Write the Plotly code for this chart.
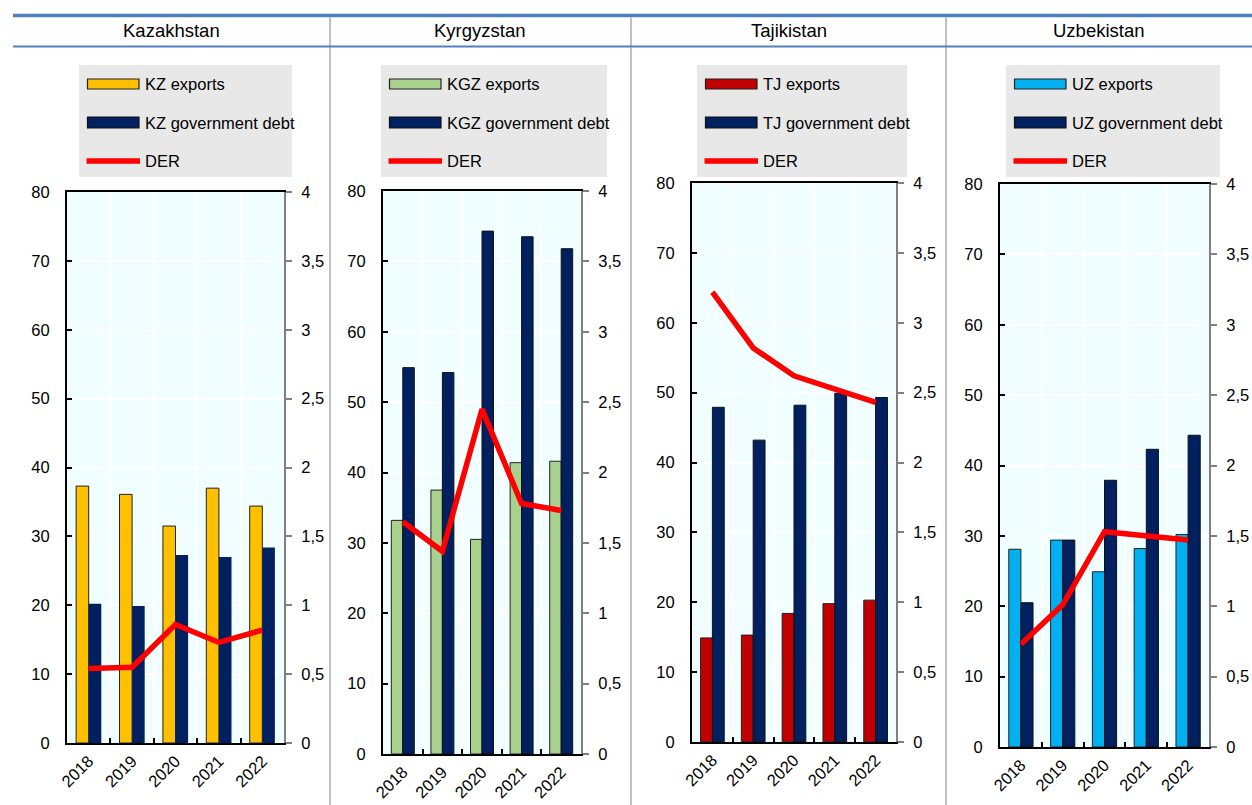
import plotly.graph_objects as go

# ---------------- data ----------------
years = ["2018", "2019", "2020", "2021", "2022"]
countries = ["Kazakhstan", "Kyrgyzstan", "Tajikistan", "Uzbekistan"]
codes = ["KZ", "KGZ", "TJ", "UZ"]

exports_kz = [37.3, 36.1, 31.5, 37.0, 34.4]
debt_kz = [20.2, 19.9, 27.3, 27.0, 28.4]
der_kz = [0.54, 0.55, 0.86, 0.73, 0.82]

exports_kgz = [33.2, 37.5, 30.5, 41.4, 41.6]
debt_kgz = [54.9, 54.2, 74.3, 73.5, 71.8]
der_kgz = [1.65, 1.44, 2.45, 1.78, 1.73]

exports_tj = [14.9, 15.3, 18.4, 19.8, 20.3]
debt_tj = [47.9, 43.2, 48.2, 49.9, 49.3]
der_tj = [3.22, 2.82, 2.62, 2.52, 2.43]

exports_uz = [28.1, 29.4, 24.9, 28.2, 30.2]
debt_uz = [20.5, 29.4, 37.9, 42.3, 44.3]
der_uz = [0.73, 1.01, 1.53, 1.50, 1.47]

left_ticks = [0, 10, 20, 30, 40, 50, 60, 70, 80]
right_ticks = [0, 0.5, 1, 1.5, 2, 2.5, 3, 3.5, 4]
right_tick_text = ["0", "0,5", "1", "1,5", "2", "2,5", "3", "3,5", "4"]

exports_names = ["KZ exports", "KGZ exports", "TJ exports", "UZ exports"]
debt_names = ["KZ government debt", "KGZ government debt", "TJ government debt", "UZ government debt"]
der_name = "DER"

exports_all = [exports_kz, exports_kgz, exports_tj, exports_uz]
debt_all = [debt_kz, debt_kgz, debt_tj, debt_uz]
der_all = [der_kz, der_kgz, der_tj, der_uz]

# ---------------- styling ----------------
W, H = 1252, 805
FONT = "Liberation Sans Narrow, Arial Narrow, Liberation Sans, Arial, sans-serif"
export_colors = ["#FFC000", "#A9D18E", "#C00000", "#00B0F0"]
debt_color = "#002060"
der_color = "#FF0000"
header_blue = "#4F81BD"
divider_gray = "#BFBFBF"

# plot areas in page pixels: (left, right, top, bottom)
panels_px = [
    (67, 284, 192, 743),
    (383, 581, 191, 754),
    (692, 896, 183, 742),
    (1000, 1209, 184, 747),
]
legend_px = [(79, 292), (381, 607), (697, 907), (1006, 1220)]
legend_top, legend_bottom = 65, 177
legend_rows = [84, 122.5, 161]
title_x = [171.5, 480.5, 788.5, 1099]
dividers = [330, 631, 946]


def px(x):
    return x / W


def py(y):
    return 1 - y / H


fig = go.Figure()

for i in range(4):
    n = "" if i == 0 else str(i + 1)
    xa = "x" + n
    ya = "y" + n
    y2 = "y" + str(i + 5)
    fig.add_trace(go.Bar(
        x=years, y=exports_all[i], name=exports_names[i],
        marker=dict(color=export_colors[i], line=dict(color="#222222", width=1)),
        xaxis=xa, yaxis=ya, showlegend=False,
    ))
    fig.add_trace(go.Bar(
        x=years, y=debt_all[i], name=debt_names[i],
        marker=dict(color=debt_color,
                    line=dict(color="#111111", width=0 if i == 0 else 1)),
        xaxis=xa, yaxis=ya, showlegend=False,
    ))
    fig.add_trace(go.Scatter(
        x=years, y=der_all[i], name=der_name, mode="lines",
        line=dict(color=der_color, width=5.5),
        xaxis=xa, yaxis=y2, showlegend=False,
    ))

layout = dict(
    width=W, height=H, autosize=False,
    margin=dict(l=0, r=0, t=0, b=0, pad=0, autoexpand=False),
    paper_bgcolor="white",
    plot_bgcolor="#F0FEFF",
    barmode="group", bargap=0.42, bargroupgap=0,
    showlegend=False,
    font=dict(family=FONT, color="black", size=16),
)

TICK_SIZE = 16.5
for i, (l, r, t, b) in enumerate(panels_px):
    n = "" if i == 0 else str(i + 1)
    layout["xaxis" + n] = dict(
        domain=[px(l), px(r)], anchor="y" + n, automargin=False,
        type="category", categoryorder="array", categoryarray=years,
        range=[-0.5, 4.5],
        tickson="boundaries", ticks="inside", ticklen=5, tickwidth=1.5, tickcolor="black",
        showline=True, linecolor="black", linewidth=2, mirror=True,
        showgrid=True, gridcolor="white", gridwidth=1.5,
        tickangle=-45, tickfont=dict(size=16.5, family=FONT),
    )
    layout["yaxis" + n] = dict(
        domain=[py(b), py(t)], anchor="x" + n, automargin=False,
        range=[0, 80], tickvals=left_ticks,
        ticks="inside", ticklen=5, tickwidth=1.5, tickcolor="black",
        showline=True, linecolor="black", linewidth=2,
        showgrid=True, gridcolor="white", gridwidth=1.5, zeroline=False,
        tickfont=dict(size=TICK_SIZE, family=FONT), ticklabelstandoff=12,
    )
    layout["yaxis" + str(i + 5)] = dict(
        overlaying="y" + n, side="right", anchor="x" + n, automargin=False,
        range=[0, 4], tickvals=right_ticks, ticktext=right_tick_text,
        ticks="outside", ticklen=6, tickwidth=1.5, tickcolor="#808080",
        showline=True, linecolor="#808080", linewidth=2,
        showgrid=False, zeroline=False,
        tickfont=dict(size=TICK_SIZE, family=FONT), ticklabelstandoff=6,
    )

shapes = []
annotations = []

# header lines
shapes.append(dict(type="line", xref="paper", yref="paper", x0=px(13), x1=1,
                   y0=py(15.5), y1=py(15.5), line=dict(color=header_blue, width=3.5)))
shapes.append(dict(type="line", xref="paper", yref="paper", x0=px(13), x1=1,
                   y0=py(46.5), y1=py(46.5), line=dict(color=header_blue, width=2)))
for d in dividers:
    shapes.append(dict(type="line", xref="paper", yref="paper", x0=px(d), x1=px(d),
                       y0=py(17.5), y1=0, line=dict(color=divider_gray, width=2), layer="below"))

for i in range(4):
    annotations.append(dict(text=countries[i], xref="paper", yref="paper",
                            x=px(title_x[i]), y=py(31), xanchor="center", yanchor="middle",
                            showarrow=False, font=dict(size=18.5, family=FONT, color="black")))
    lx0, lx1 = legend_px[i]
    shapes.append(dict(type="rect", xref="paper", yref="paper", x0=px(lx0), x1=px(lx1),
                       y0=py(legend_bottom), y1=py(legend_top),
                       fillcolor="#E8E8E8", line=dict(width=0), layer="below"))
    sx0, sx1 = lx0 + 8.5, lx0 + 60
    # exports swatch
    shapes.append(dict(type="rect", xref="paper", yref="paper", x0=px(sx0), x1=px(sx1),
                       y0=py(legend_rows[0] + 5), y1=py(legend_rows[0] - 5),
                       fillcolor=export_colors[i], line=dict(color="#222222", width=1.2)))
    # debt swatch
    shapes.append(dict(type="rect", xref="paper", yref="paper", x0=px(sx0), x1=px(sx1),
                       y0=py(legend_rows[1] + 5.5), y1=py(legend_rows[1] - 5.5),
                       fillcolor=debt_color, line=dict(color="#111111", width=1.2)))
    # DER line
    shapes.append(dict(type="line", xref="paper", yref="paper", x0=px(sx0 - 1), x1=px(sx1 + 1),
                       y0=py(legend_rows[2]), y1=py(legend_rows[2]),
                       line=dict(color=der_color, width=5.5)))
    for row, label in zip(legend_rows, [exports_names[i], debt_names[i], der_name]):
        annotations.append(dict(text=label, xref="paper", yref="paper",
                                x=px(lx0 + 64), y=py(row), xanchor="left", yanchor="middle",
                                showarrow=False, font=dict(size=16.5, family=FONT, color="black")))

layout["shapes"] = shapes
layout["annotations"] = annotations
fig.update_layout(**layout)

# remove the default page margin so the 1252x805 figure fills the window exactly
fig.write_html(
    "out.html",
    config={"displayModeBar": False},
    post_script="document.body.style.margin='0px';document.body.style.overflow='hidden';",
)
